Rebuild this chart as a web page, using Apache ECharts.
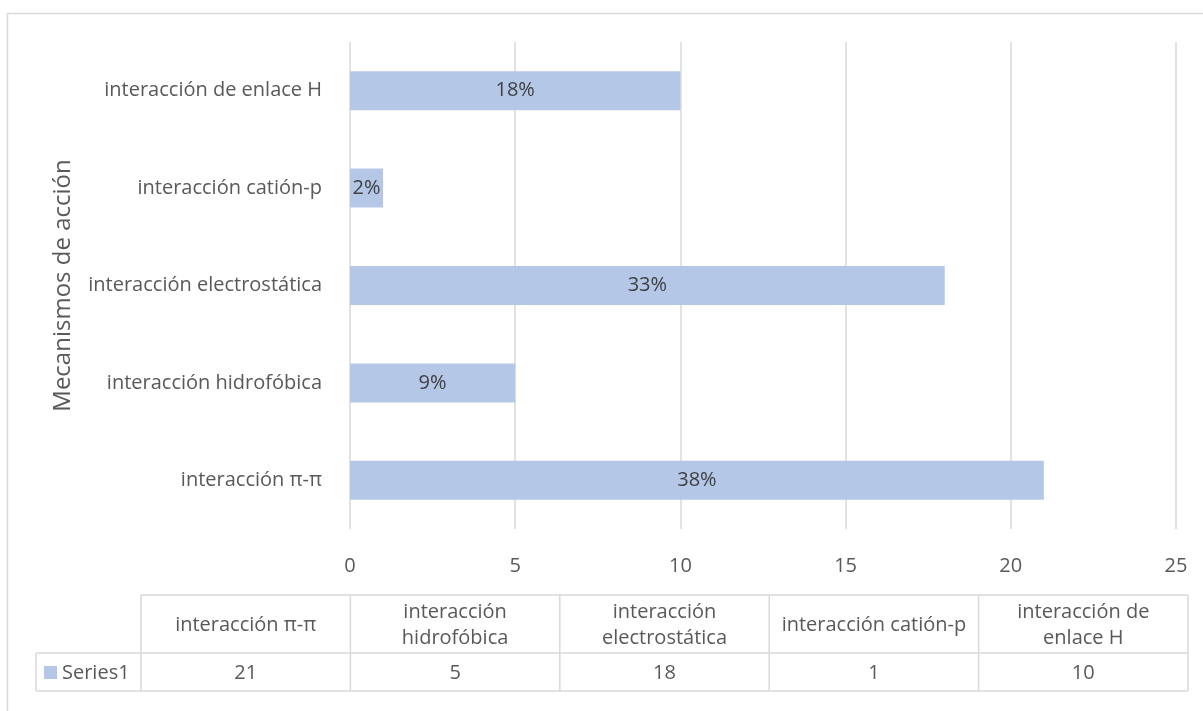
<!DOCTYPE html>
<html>
<head>
<meta charset="utf-8">
<script src="https://cdn.jsdelivr.net/npm/echarts@6/dist/echarts.min.js"></script>
<style>
  html, body { margin: 0; padding: 0; background: #ffffff; }
  #chart { width: 1203px; height: 711px; }
</style>
</head>
<body>
<div id="chart"></div>
<script>
// Interaction mechanisms and their counts (bottom-to-top order on the category axis)
const categories = [
  'interacción π-π',
  'interacción hidrofóbica',
  'interacción electrostática',
  'interacción catión-p',
  'interacción de enlace H'
];
const seriesName = 'Series1';
const values = [21, 5, 18, 1, 10];
const xTicks = [0, 5, 10, 15, 20, 25];
const axisTitle = 'Mecanismos de acción';

const FONT = '"Open Sans", "Noto Sans", sans-serif';
const FS = 20;
const TEXT = '#595959';
const LINE = '#d9d9d9';
const BAR = '#b4c7e7';

const total = values.reduce((a, b) => a + b, 0);
const pct = v => Math.round(v / total * 100) + '%';

// Word-wrap a string so that no line is wider than maxW at the given font
const measureCtx = document.createElement('canvas').getContext('2d');
function wrapWords(str, font, maxW) {
  measureCtx.font = font;
  const words = str.split(' ');
  const lines = [];
  let cur = '';
  words.forEach(w => {
    const test = cur ? cur + ' ' + w : w;
    if (cur && measureCtx.measureText(test).width > maxW) {
      lines.push(cur);
      cur = w;
    } else {
      cur = test;
    }
  });
  if (cur) lines.push(cur);
  return lines.join('\n');
}

const chart = echarts.init(document.getElementById('chart'), null, { renderer: 'canvas' });

// Data table under the plot: header row with the categories, value row with the counts
function tableGraphics() {
  const legendLeft = 36, tblLeft = 141, tblRight = 1188;
  const rowTop = 595, rowMid = 653, rowBot = 691;
  const colW = (tblRight - tblLeft) / categories.length;
  const font = FS + 'px ' + FONT;
  const ls = { stroke: LINE, lineWidth: 1.5 };
  const els = [];
  const hLine = (x1, x2, y) => els.push({ type: 'line', shape: { x1, y1: y, x2, y2: y }, style: ls, silent: true });
  const vLine = (x, y1, y2) => els.push({ type: 'line', shape: { x1: x, y1, x2: x, y2 }, style: ls, silent: true });
  hLine(tblLeft, tblRight, rowTop);
  hLine(legendLeft, tblRight, rowMid);
  hLine(legendLeft, tblRight, rowBot);
  vLine(legendLeft, rowMid, rowBot);
  for (let i = 0; i <= categories.length; i++) vLine(tblLeft + i * colW, rowTop, rowBot);
  categories.forEach((c, i) => {
    const cx = tblLeft + (i + 0.5) * colW;
    els.push({
      type: 'text', silent: true, x: cx, y: (rowTop + rowMid) / 2 + 1,
      style: {
        text: wrapWords(c, font, colW - 18), lineHeight: 26,
        align: 'center', verticalAlign: 'middle',
        font, fill: TEXT
      }
    });
    els.push({
      type: 'text', silent: true, x: cx, y: (rowMid + rowBot) / 2 + 1,
      style: {
        text: String(values[i]), align: 'center', verticalAlign: 'middle',
        font, fill: TEXT
      }
    });
  });
  // legend key inside the first cell of the value row
  els.push({ type: 'rect', silent: true, shape: { x: 44, y: 666, width: 13, height: 13 }, style: { fill: BAR } });
  els.push({
    type: 'text', silent: true, x: 62, y: (rowMid + rowBot) / 2 + 1,
    style: { text: seriesName, align: 'left', verticalAlign: 'middle', font, fill: TEXT }
  });
  // outer chart-area frame
  els.push({ type: 'rect', silent: true, shape: { x: 7.5, y: 13.5, width: 1210, height: 720 }, style: { fill: 'none', stroke: LINE, lineWidth: 1.5 } });
  return els;
}

const option = {
  backgroundColor: '#ffffff',
  animation: false,
  textStyle: { fontFamily: FONT },
  grid: { left: 350, right: 27, top: 42, bottom: 182, containLabel: false },
  xAxis: {
    type: 'value',
    min: xTicks[0],
    max: xTicks[xTicks.length - 1],
    interval: xTicks[1] - xTicks[0],
    axisLine: { show: false },
    axisTick: { show: false },
    axisLabel: { color: TEXT, fontSize: FS, margin: 27, fontFamily: FONT },
    splitLine: { show: true, lineStyle: { color: LINE, width: 1.5 } }
  },
  yAxis: {
    type: 'category',
    data: categories,
    name: axisTitle,
    nameLocation: 'middle',
    nameGap: 275,
    nameRotate: 90,
    nameTextStyle: { color: TEXT, fontSize: 24, fontFamily: FONT },
    axisLine: { show: false },
    axisTick: { show: false },
    axisLabel: { color: TEXT, fontSize: FS, margin: 28, fontFamily: FONT },
    splitLine: { show: false }
  },
  series: [{
    name: seriesName,
    type: 'bar',
    data: values,
    barCategoryGap: '60%',
    itemStyle: { color: BAR },
    label: {
      show: true,
      position: 'inside',
      formatter: p => pct(p.value),
      color: '#404040',
      fontSize: FS,
      fontFamily: FONT
    }
  }],
  graphic: tableGraphics()
};

chart.setOption(option);
</script>
</body>
</html>
